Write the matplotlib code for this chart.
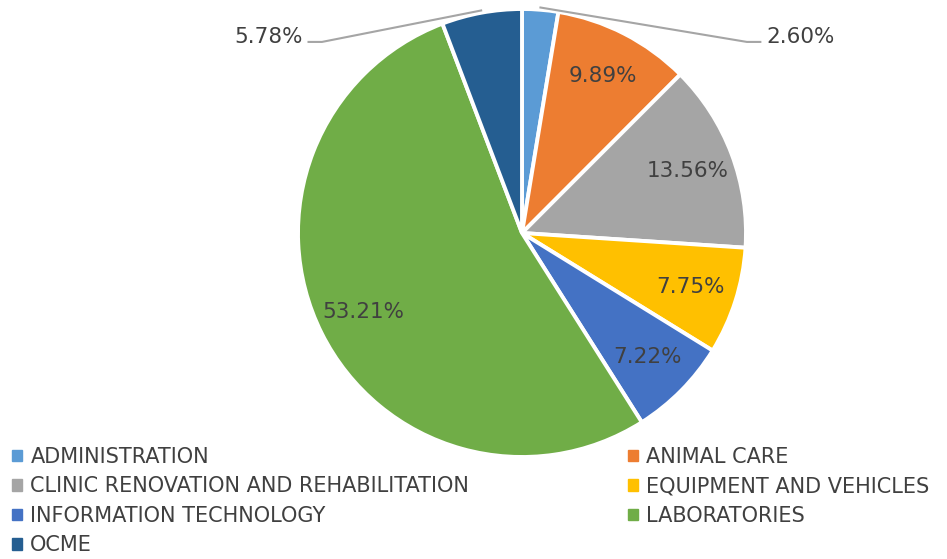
import matplotlib.pyplot as plt
import matplotlib.patches as mpatches
import numpy as np

plt.rcParams['font.family'] = ['DejaVu Sans']

categories = ["ADMINISTRATION", "ANIMAL CARE", "CLINIC RENOVATION AND REHABILITATION",
              "EQUIPMENT AND VEHICLES", "INFORMATION TECHNOLOGY", "LABORATORIES", "OCME"]
values = [2.60, 9.89, 13.56, 7.75, 7.22, 53.21, 5.78]
pct_labels = ["2.60%", "9.89%", "13.56%", "7.75%", "7.22%", "53.21%", "5.78%"]
colors = ["#5B9BD5", "#ED7D31", "#A5A5A5", "#FFC000", "#4472C4", "#70AD47", "#255E91"]
text_color = "#404040"

fig = plt.figure(figsize=(9.47, 5.59), dpi=100)
# pie centre ~(522, 233) px, radius ~224 px
ax = fig.add_axes([298 / 947, 102 / 559, 448 / 947, 448 / 559])

wedges, _ = ax.pie(values, colors=colors, startangle=90, counterclock=False,
                   wedgeprops=dict(edgecolor='white', linewidth=2.8))
ax.set_xlim(-1, 1)
ax.set_ylim(-1, 1)
ax.set_aspect('equal')

# (elbow x, elbow y, text side) for the small slices placed outside
outside = {0: (1.004, 0.853, 'left'), 6: (-0.893, 0.853, 'right')}
for i, w in enumerate(wedges):
    ang = np.deg2rad((w.theta1 + w.theta2) / 2)
    if i in outside:
        ex, ey, ha = outside[i]
        sgn = 1 if ha == 'left' else -1
        x0, y0 = np.cos(ang) * 1.01, np.sin(ang) * 1.01
        ax.plot([x0, ex, ex + sgn * 0.06], [y0, ey, ey], color='#A5A5A5', lw=1.5,
                clip_on=False)
        ax.text(ex + sgn * 0.085, ey + 0.02, pct_labels[i], ha=ha, va='center',
                color=text_color, fontsize=15.5)
    else:
        r = 0.79
        ax.text(np.cos(ang) * r, np.sin(ang) * r, pct_labels[i], ha='center',
                va='center', color=text_color, fontsize=15.5)

# legend, two columns in row order
handles = [mpatches.Patch(color=c) for c in colors]
leg_kw = dict(frameon=False, fontsize=15, handlelength=0.48, handleheight=0.48,
              handletextpad=0.4, labelspacing=0.45, borderpad=0, borderaxespad=0,
              labelcolor=text_color, loc='upper left')
left_idx = [0, 2, 4, 6]
right_idx = [1, 3, 5]
fig.legend([handles[i] for i in left_idx], [categories[i] for i in left_idx],
           bbox_to_anchor=(12 / 947, 1 - 447 / 559), **leg_kw)
fig.legend([handles[i] for i in right_idx], [categories[i] for i in right_idx],
           bbox_to_anchor=(628 / 947, 1 - 447 / 559), **leg_kw)

fig.savefig('out.png', dpi=100)
